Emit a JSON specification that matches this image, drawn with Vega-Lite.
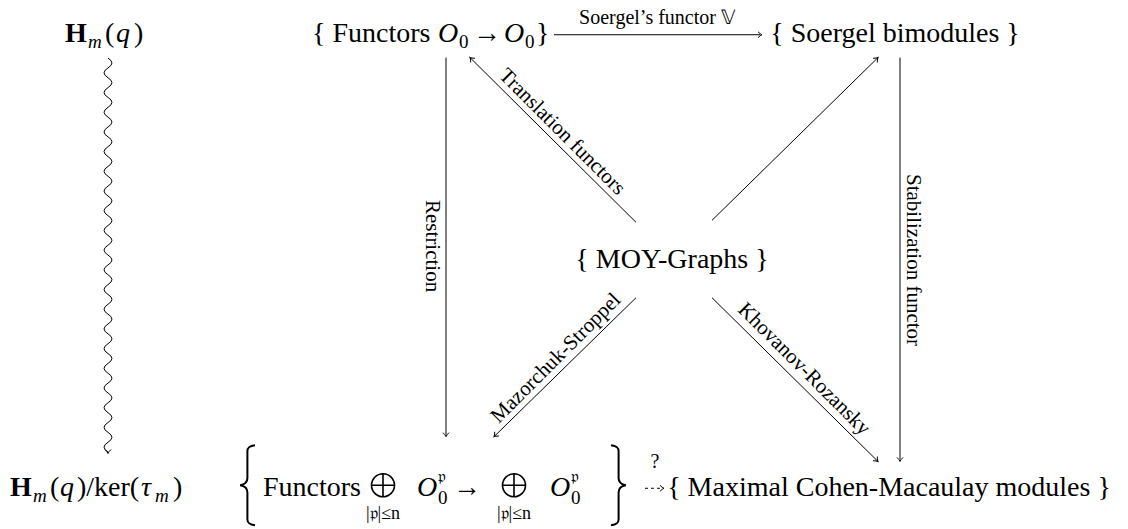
{
  "$schema": "https://vega.github.io/schema/vega-lite/v6.json",
  "width": 1128,
  "height": 529,
  "autosize": {"type": "fit", "contains": "padding"},
  "padding": 0,
  "background": "white",
  "config": {"view": {"stroke": null}, "text": {"font": "Liberation Serif", "color": "black"}},
  "datasets": {
    "mainCenter": [
      {"x": 895, "y": 42, "t": "{ Soergel bimodules }"},
      {"x": 672, "y": 270, "t": "{ MOY-Graphs }"},
      {"x": 889, "y": 500, "t": "{ Maximal Cohen-Macaulay modules }"}
    ],
    "mainLeft": [
      {"x": 312, "y": 42, "t": "{ Functors"},
      {"x": 473, "y": 42, "t": "→"},
      {"x": 536, "y": 42, "t": "}"},
      {"x": 105, "y": 42, "t": "("},
      {"x": 134, "y": 42, "t": ")"},
      {"x": 50, "y": 500, "t": "("},
      {"x": 77, "y": 500, "t": ")/ker("},
      {"x": 173, "y": 500, "t": ")"},
      {"x": 263, "y": 500, "t": "Functors"},
      {"x": 453, "y": 500, "t": "→"}
    ],
    "mainItalic": [
      {"x": 438, "y": 42, "t": "O"},
      {"x": 504, "y": 42, "t": "O"},
      {"x": 116, "y": 42, "t": "q"},
      {"x": 60, "y": 500, "t": "q"},
      {"x": 141, "y": 500, "t": "τ"},
      {"x": 417, "y": 500, "t": "O"},
      {"x": 550, "y": 500, "t": "O"}
    ],
    "mainBold": [
      {"x": 65, "y": 42, "t": "H"},
      {"x": 10, "y": 500, "t": "H"}
    ],
    "subItalic": [
      {"x": 88, "y": 48, "t": "m"},
      {"x": 33, "y": 506, "t": "m"},
      {"x": 155, "y": 506, "t": "m"}
    ],
    "subNormal": [
      {"x": 459, "y": 48, "t": "0"},
      {"x": 525, "y": 48, "t": "0"},
      {"x": 438, "y": 508, "t": "0"},
      {"x": 571, "y": 508, "t": "0"}
    ],
    "sup": [
      {"x": 438, "y": 486, "t": "𝔭"},
      {"x": 571, "y": 486, "t": "𝔭"}
    ],
    "under": [
      {"x": 383, "y": 523, "t": "|𝔭|≤n"},
      {"x": 514, "y": 523, "t": "|𝔭|≤n"}
    ],
    "labels": [
      {"x": 432, "y": 248, "angle": 90, "t": "Restriction"},
      {"x": 913, "y": 262, "angle": 90, "t": "Stabilization functor"},
      {"x": 562, "y": 133, "angle": 45, "t": "Translation functors"},
      {"x": 556, "y": 361, "angle": -45, "t": "Mazorchuk-Stroppel"},
      {"x": 804, "y": 372, "angle": 45, "t": "Khovanov-Rozansky"}
    ],
    "topLabel": [
      {"x": 657, "y": 24, "t": "Soergel’s functor 𝕍"},
      {"x": 655, "y": 472, "t": "?"}
    ],
    "edges": [
      {"x": 554, "y": 35, "x2": 760, "y2": 35},
      {"x": 446, "y": 58, "x2": 446, "y2": 438},
      {"x": 636, "y": 224, "x2": 471, "y2": 59},
      {"x": 712, "y": 222, "x2": 877, "y2": 59},
      {"x": 900, "y": 58, "x2": 900, "y2": 463},
      {"x": 636, "y": 300, "x2": 495, "y2": 439},
      {"x": 712, "y": 300, "x2": 877, "y2": 464}
    ],
    "dashed": [
      {"x": 645, "y": 492, "x2": 662, "y2": 492}
    ],
    "heads": [
      {"x": 762, "y": 35, "angle": 0},
      {"x": 446, "y": 440, "angle": 90},
      {"x": 470, "y": 58, "angle": 225},
      {"x": 878, "y": 58, "angle": 315},
      {"x": 900, "y": 465, "angle": 90},
      {"x": 494, "y": 440, "angle": 135},
      {"x": 878, "y": 465, "angle": 45},
      {"x": 108, "y": 457, "angle": 90},
      {"x": 664, "y": 492, "angle": 0}
    ],
    "wave": [{"x": 108, "y": 257}],
    "braceL": [{"x": 245, "y": 489}],
    "braceR": [{"x": 621, "y": 489}],
    "oplus": [{"x": 383, "y": 489}, {"x": 514, "y": 489}]
  },
  "encoding": {
    "x": {"field": "x", "type": "quantitative", "scale": {"domain": [0, 1128], "nice": false, "zero": false}, "axis": null},
    "y": {"field": "y", "type": "quantitative", "scale": {"domain": [0, 529], "nice": false, "zero": false, "reverse": true}, "axis": null}
  },
  "layer": [
    {"data": {"name": "edges"}, "mark": {"type": "rule", "stroke": "black", "strokeWidth": 1},
     "encoding": {"x2": {"field": "x2"}, "y2": {"field": "y2"}}},
    {"data": {"name": "dashed"}, "mark": {"type": "rule", "stroke": "black", "strokeWidth": 1, "strokeDash": [3, 3]},
     "encoding": {"x2": {"field": "x2"}, "y2": {"field": "y2"}}},
    {"data": {"name": "heads"}, "mark": {"type": "point", "shape": "M -1 -0.75 Q -0.45 -0.15 0 0 Q -0.45 0.15 -1 0.75", "filled": false, "stroke": "black", "strokeWidth": 1, "size": 64, "opacity": 1},
     "encoding": {"angle": {"field": "angle", "type": "quantitative", "scale": null}}},
    {"data": {"name": "wave"}, "mark": {"type": "point", "shape": "M 0 -1 q 0.04 0.025 0 0.05 q -0.04 0.025 0 0.05 q 0.04 0.025 0 0.05 q -0.04 0.025 0 0.05 q 0.04 0.025 0 0.05 q -0.04 0.025 0 0.05 q 0.04 0.025 0 0.05 q -0.04 0.025 0 0.05 q 0.04 0.025 0 0.05 q -0.04 0.025 0 0.05 q 0.04 0.025 0 0.05 q -0.04 0.025 0 0.05 q 0.04 0.025 0 0.05 q -0.04 0.025 0 0.05 q 0.04 0.025 0 0.05 q -0.04 0.025 0 0.05 q 0.04 0.025 0 0.05 q -0.04 0.025 0 0.05 q 0.04 0.025 0 0.05 q -0.04 0.025 0 0.05 q 0.04 0.025 0 0.05 q -0.04 0.025 0 0.05 q 0.04 0.025 0 0.05 q -0.04 0.025 0 0.05 q 0.04 0.025 0 0.05 q -0.04 0.025 0 0.05 q 0.04 0.025 0 0.05 q -0.04 0.025 0 0.05 q 0.04 0.025 0 0.05 q -0.04 0.025 0 0.05 q 0.04 0.025 0 0.05 q -0.04 0.025 0 0.05 q 0.04 0.025 0 0.05 q -0.04 0.025 0 0.05 q 0.04 0.025 0 0.05 q -0.04 0.025 0 0.05 q 0.04 0.025 0 0.05 q -0.04 0.025 0 0.05 q 0.04 0.025 0 0.05 q -0.04 0.025 0 0.05", "filled": false, "stroke": "black", "strokeWidth": 1, "size": 155236, "opacity": 1},
     "encoding": {}},
    {"data": {"name": "braceL"}, "mark": {"type": "point", "shape": "M 0.25 -1 C 0.1 -0.98 0.06 -0.94 0.06 -0.85 L 0.06 -0.18 C 0.06 -0.07 0 -0.02 -0.12 0 C 0 0.02 0.06 0.07 0.06 0.18 L 0.06 0.85 C 0.06 0.94 0.1 0.98 0.25 1", "filled": false, "stroke": "black", "strokeWidth": 2, "size": 6400, "opacity": 1},
     "encoding": {}},
    {"data": {"name": "braceR"}, "mark": {"type": "point", "shape": "M -0.25 -1 C -0.1 -0.98 -0.06 -0.94 -0.06 -0.85 L -0.06 -0.18 C -0.06 -0.07 0 -0.02 0.12 0 C 0 0.02 -0.06 0.07 -0.06 0.18 L -0.06 0.85 C -0.06 0.94 -0.1 0.98 -0.25 1", "filled": false, "stroke": "black", "strokeWidth": 2, "size": 6400, "opacity": 1},
     "encoding": {}},
    {"data": {"name": "oplus"}, "mark": {"type": "point", "shape": "M -1 0 A 1 1 0 1 1 1 0 A 1 1 0 1 1 -1 0 Z M -1 0 L 1 0 M 0 -1 L 0 1", "filled": false, "stroke": "black", "strokeWidth": 1.6, "size": 529, "opacity": 1},
     "encoding": {}},
    {"data": {"name": "mainCenter"}, "mark": {"type": "text", "font": "Liberation Serif", "fontSize": 28, "align": "center", "baseline": "alphabetic"},
     "encoding": {"text": {"field": "t"}}},
    {"data": {"name": "mainLeft"}, "mark": {"type": "text", "font": "Liberation Serif", "fontSize": 28, "align": "left", "baseline": "alphabetic"},
     "encoding": {"text": {"field": "t"}}},
    {"data": {"name": "mainItalic"}, "mark": {"type": "text", "font": "Liberation Serif", "fontSize": 28, "fontStyle": "italic", "align": "left", "baseline": "alphabetic"},
     "encoding": {"text": {"field": "t"}}},
    {"data": {"name": "mainBold"}, "mark": {"type": "text", "font": "Liberation Serif", "fontSize": 28, "fontWeight": "bold", "align": "left", "baseline": "alphabetic"},
     "encoding": {"text": {"field": "t"}}},
    {"data": {"name": "subItalic"}, "mark": {"type": "text", "font": "Liberation Serif", "fontSize": 19, "fontStyle": "italic", "align": "left", "baseline": "alphabetic"},
     "encoding": {"text": {"field": "t"}}},
    {"data": {"name": "subNormal"}, "mark": {"type": "text", "font": "Liberation Serif", "fontSize": 19, "align": "left", "baseline": "alphabetic"},
     "encoding": {"text": {"field": "t"}}},
    {"data": {"name": "sup"}, "mark": {"type": "text", "font": "Liberation Serif", "fontSize": 17, "align": "left", "baseline": "alphabetic"},
     "encoding": {"text": {"field": "t"}}},
    {"data": {"name": "under"}, "mark": {"type": "text", "font": "Liberation Serif", "fontSize": 18, "align": "center", "baseline": "alphabetic"},
     "encoding": {"text": {"field": "t"}}},
    {"data": {"name": "labels"}, "mark": {"type": "text", "font": "Liberation Serif", "fontSize": 21, "align": "center", "baseline": "middle"},
     "encoding": {"text": {"field": "t"}, "angle": {"field": "angle", "type": "quantitative", "scale": null}}},
    {"data": {"name": "topLabel"}, "mark": {"type": "text", "font": "Liberation Serif", "fontSize": 20, "align": "center", "baseline": "alphabetic"},
     "encoding": {"text": {"field": "t"}}}
  ]
}
